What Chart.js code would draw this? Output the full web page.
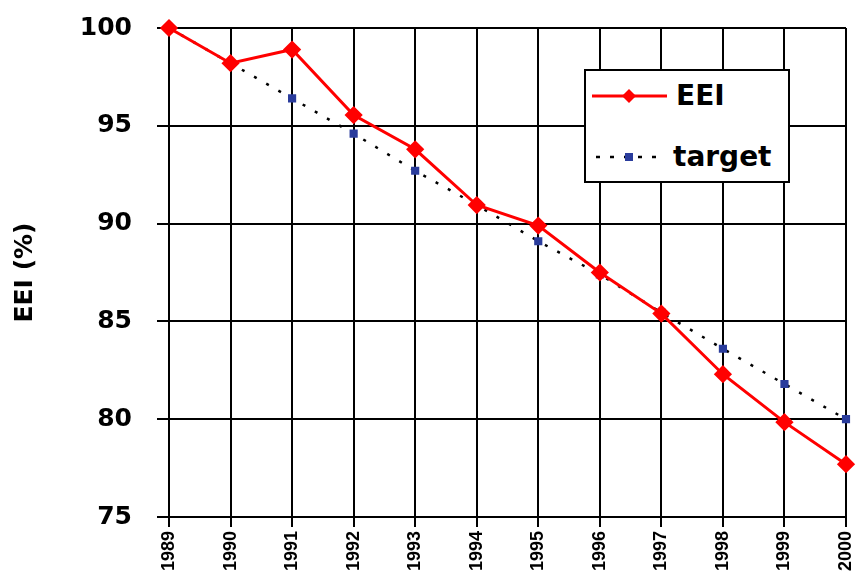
<!DOCTYPE html>
<html><head><meta charset="utf-8">
<script src="https://cdn.jsdelivr.net/npm/chart.js@4"></script>
<style>
html,body{margin:0;padding:0;background:#fff}
#wrap{position:relative;width:856px;height:581px}
#legend{position:absolute;left:584px;top:69px;width:206px;height:114px}
#legend svg{position:absolute;left:0;top:0}
#legend span{position:absolute;font:bold 28px 'DejaVu Sans',sans-serif;line-height:28px;color:#000;white-space:nowrap}
</style>
</head><body><div id="wrap"><canvas id="c" width="856" height="581"></canvas><div id="legend"></div></div>
<script>
const years = ['1989','1990','1991','1992','1993','1994','1995','1996','1997','1998','1999','2000'];
const eei = [100, 98.2, 98.9, 95.55, 93.8, 90.95, 89.9, 87.5, 85.4, 82.3, 79.85, 77.7];
const target = [100, 98.2, 96.4, 94.6, 92.7, 90.95, 89.1, 87.4, 85.45, 83.6, 81.8, 80.0];
const yTicks = [75, 80, 85, 90, 95, 100];
const seriesNames = ['EEI', 'target'];
const yTitle = 'EEI (%)';

const FONT = "'DejaVu Sans', sans-serif";

const chart = new Chart(document.getElementById('c'), {
  type: 'line',
  data: {
    labels: years,
    datasets: [
      {
        label: seriesNames[0], data: eei,
        borderColor: '#ff0000', borderWidth: 3,
        pointStyle: 'rectRot', pointRadius: 7,
        pointBackgroundColor: '#ff0000', pointBorderColor: '#ff0000',
        tension: 0, clip: false
      },
      {
        label: seriesNames[1], data: target,
        borderColor: '#000000', borderWidth: 2.5, borderDash: [3, 11],
        pointStyle: 'rect', pointRadius: 4,
        pointBackgroundColor: '#2a3c9c', pointBorderColor: '#2a3c9c',
        tension: 0, clip: false
      }
    ]
  },
  options: {
    responsive: false,
    animation: false,
    events: [],
    layout: { padding: { top: 28, right: 6, left: 0, bottom: 0 } },
    plugins: { legend: { display: false }, tooltip: { enabled: false } },
    scales: {
      x: {
        type: 'category',
        offset: false,
        grid: { color: '#000', lineWidth: 2, tickLength: 10 },
        border: { color: '#000', width: 2 },
        ticks: {
          color: '#000', maxRotation: 90, minRotation: 90, autoSkip: false, padding: 4,
          font: { family: "'Liberation Sans', Arial, sans-serif", weight: 'bold', size: 18 }
        },
        afterFit(s) { s.height = 64; s.paddingLeft = 0; s.paddingRight = 0; }
      },
      y: {
        min: 75, max: 100,
        afterBuildTicks(s) { s.ticks = yTicks.map(v => ({ value: v })); },
        grid: { color: '#000', lineWidth: 2, tickLength: 12 },
        border: { color: '#000', width: 2 },
        ticks: { color: '#000', padding: 25, font: { family: FONT, weight: 'bold', size: 25 } },
        title: { display: true, text: yTitle, color: '#000', padding: { top: 10, bottom: 0 }, font: { family: FONT, weight: 'bold', size: 25 } },
        afterFit(s) { s.width = 169; s.paddingTop = 0; s.paddingBottom = 0; }
      }
    }
  }
});

// HTML legend built from the datasets (kept off the canvas)
(function buildLegend() {
  const ds = chart.data.datasets;
  const NS = 'http://www.w3.org/2000/svg';
  const box = document.getElementById('legend');
  const svg = document.createElementNS(NS, 'svg');
  svg.setAttribute('width', '206'); svg.setAttribute('height', '114');
  const el = (tag, attrs) => { const e = document.createElementNS(NS, tag); for (const k in attrs) e.setAttribute(k, attrs[k]); svg.appendChild(e); return e; };
  el('rect', { x: 1, y: 1, width: 204, height: 112, fill: '#fff', stroke: '#000', 'stroke-width': 2 });
  // row 1: solid line + diamond
  el('line', { x1: 8, y1: 27, x2: 83, y2: 27, stroke: ds[0].borderColor, 'stroke-width': ds[0].borderWidth });
  el('polygon', { points: '45,20 52,27 45,34 38,27', fill: ds[0].pointBackgroundColor });
  // row 2: dotted line + square
  el('line', { x1: 12, y1: 88, x2: 80, y2: 88, stroke: ds[1].borderColor, 'stroke-width': ds[1].borderWidth, 'stroke-dasharray': '4 10' });
  el('rect', { x: 41, y: 84, width: 8, height: 8, fill: ds[1].pointBackgroundColor });
  box.appendChild(svg);
  const rows = [{ left: 92, top: 13 }, { left: 89, top: 74 }];
  ds.forEach((d, i) => {
    const s = document.createElement('span');
    s.textContent = d.label;
    s.style.left = rows[i].left + 'px';
    s.style.top = rows[i].top + 'px';
    box.appendChild(s);
  });
})();
</script>
</body></html>
